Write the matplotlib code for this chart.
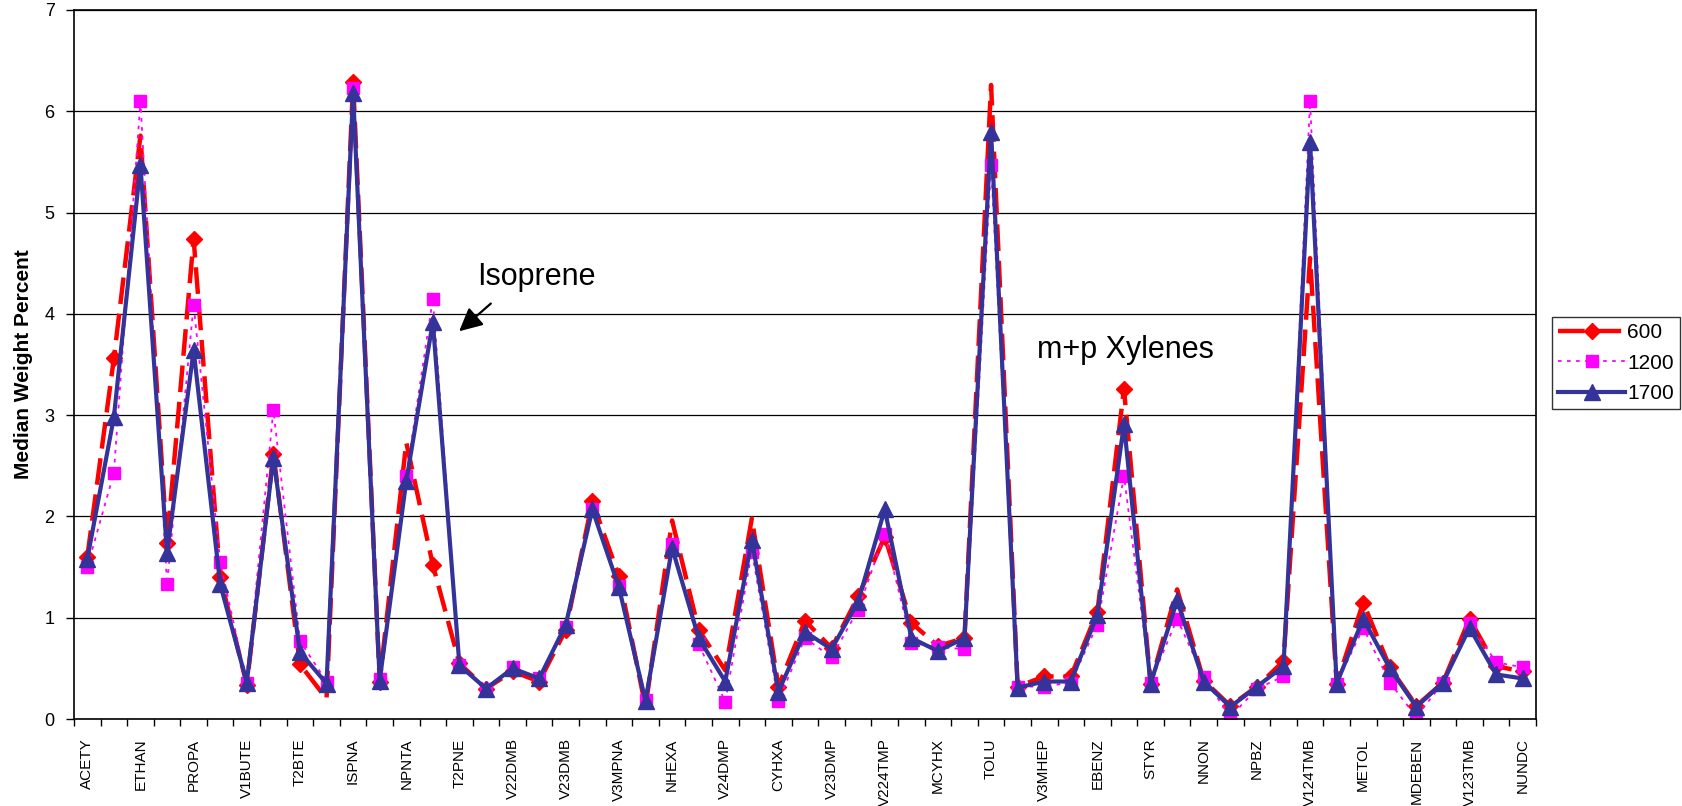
import matplotlib
matplotlib.use('Agg')
import matplotlib.pyplot as plt
import numpy as np

plt.rcParams['font.family'] = ['Liberation Sans', 'DejaVu Sans']

# species codes (every other one is shown on the axis)
species = ['ACETY', 'ETHE', 'ETHAN', 'PROPE', 'PROPA', 'ISBTA', 'V1BUTE', 'NBUTA',
           'T2BTE', 'C2BTE', 'ISPNA', 'V1PNTE', 'NPNTA', 'ISOPR', 'T2PNE', 'C2PNE',
           'V22DMB', 'CPNTA', 'V23DMB', 'V2MPNA', 'V3MPNA', 'V1HEXE', 'NHEXA', 'MCPNA',
           'V24DMP', 'BENZE', 'CYHXA', 'V2MHXA', 'V23DMP', 'V3MHXA', 'V224TMP', 'NHEPT',
           'MCYHX', 'V234TMP', 'TOLU', 'V2MHEP', 'V3MHEP', 'NOCT', 'EBENZ', 'MPXYL',
           'STYR', 'OXYL', 'NNON', 'IPRBZ', 'NPBZ', 'V135TMB', 'V124TMB', 'NDEC',
           'METOL', 'PETOL', 'MDEBEN', 'PDEBEN', 'V123TMB', 'OETOL', 'NUNDC']

w600 = [1.60, 3.56, 5.76, 1.74, 4.74, 1.40, 0.34, 2.62, 0.54, 0.20,
        6.29, 0.37, 2.73, 1.52, 0.55, 0.30, 0.47, 0.37, 0.88, 2.15,
        1.41, 0.12, 1.96, 0.88, 0.48, 1.98, 0.32, 0.97, 0.70, 1.21,
        1.80, 0.95, 0.72, 0.80, 6.26, 0.32, 0.42, 0.42, 1.06, 3.26,
        0.35, 1.28, 0.38, 0.13, 0.32, 0.57, 4.55, 0.35, 1.15, 0.51,
        0.13, 0.36, 0.99, 0.52, 0.47]
w1200 = [1.50, 2.43, 6.10, 1.33, 4.09, 1.55, 0.36, 3.05, 0.77, 0.37,
         6.23, 0.39, 2.40, 4.15, 0.53, 0.30, 0.51, 0.40, 0.91, 2.07,
         1.31, 0.19, 1.73, 0.74, 0.17, 1.65, 0.18, 0.80, 0.61, 1.08,
         1.83, 0.75, 0.71, 0.69, 5.47, 0.32, 0.32, 0.36, 0.93, 2.40,
         0.36, 0.99, 0.41, 0.02, 0.30, 0.42, 6.10, 0.35, 0.90, 0.36,
         0.02, 0.36, 0.95, 0.56, 0.51]
w1700 = [1.58, 2.98, 5.47, 1.64, 3.64, 1.33, 0.36, 2.58, 0.66, 0.35,
         6.18, 0.38, 2.35, 3.92, 0.53, 0.30, 0.50, 0.40, 0.93, 2.07,
         1.30, 0.18, 1.69, 0.80, 0.37, 1.77, 0.27, 0.86, 0.69, 1.16,
         2.07, 0.80, 0.67, 0.80, 5.80, 0.31, 0.37, 0.37, 1.03, 2.91,
         0.35, 1.17, 0.37, 0.12, 0.32, 0.52, 5.70, 0.35, 0.99, 0.50,
         0.12, 0.36, 0.90, 0.44, 0.40]

# points where the 600 diamond is not visible in the original
no_marker_600 = [2, 9, 12, 21, 22, 24, 25, 34, 41, 46]

x = np.arange(len(species))

fig = plt.figure(figsize=(16.82, 8.06), dpi=100)
ax = fig.add_axes([74 / 1682, 1 - 719 / 806, (1536 - 74) / 1682, (719 - 10) / 806])

ax.set_ylim(0, 7)
ax.set_xlim(-0.5, len(species) - 0.5)
ax.yaxis.grid(True, color='black', lw=0.9)
ax.set_axisbelow(True)

red_marks = [i for i in range(len(species)) if i not in no_marker_600]
ax.plot(x, w600, color='#ff0000', lw=3.2, dashes=(6, 2.2), marker='D', ms=8.5,
        mec='#ff0000', mfc='#ff0000', markevery=red_marks, label='600')
ax.plot(x, w1200, color='#ff00ff', lw=1.3, dashes=(2, 3), marker='s', ms=8.5,
        mec='#ff00ff', mfc='#ff00ff', label='1200')
ax.plot(x, w1700, color='#333399', lw=3.0, marker='^', ms=12,
        mec='#333399', mfc='#333399', label='1700')

ax.set_xticks(x[::2])
ax.set_xticklabels(species[::2], rotation=90, fontsize=11)
ax.set_xticks(np.arange(-0.5, len(species), 1), minor=True)
ax.tick_params(axis='x', which='major', length=0, pad=14)
ax.tick_params(axis='x', which='minor', length=5, width=1, direction='out')
ax.set_yticks(range(8))
ax.tick_params(axis='y', length=6, width=1, direction='out', labelsize=13, pad=8)
for s in ax.spines.values():
    s.set_linewidth(1.2)

ax.set_ylabel('Median Weight Percent', fontsize=15, fontweight='bold', labelpad=8)

ax.text(14.66, 4.28, 'Isoprene', fontsize=22, va='baseline', ha='left')
ax.annotate('', xy=(13.91, 3.81), xytext=(15.26, 4.12),
            arrowprops=dict(arrowstyle='-|>,head_length=0.7,head_width=0.35',
                            color='black', lw=1.6, mutation_scale=20))
ax.text(35.73, 3.56, 'm+p Xylenes', fontsize=22, va='baseline', ha='left')

leg = fig.legend(loc='upper left', bbox_to_anchor=(1552 / 1682, 1 - 317 / 806),
                 borderaxespad=0, fontsize=15, handlelength=3.2, handletextpad=0.1,
                 labelspacing=0.55, borderpad=0.3, fancybox=False, frameon=True,
                 numpoints=1)
leg.get_frame().set_edgecolor('black')
leg.get_frame().set_linewidth(1.0)

fig.savefig('out.png', dpi=100)
